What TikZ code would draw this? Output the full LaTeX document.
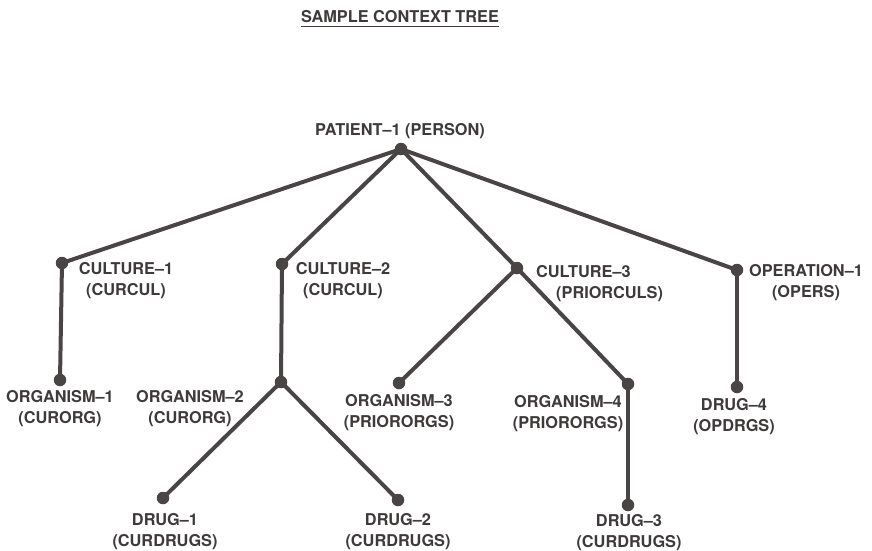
\documentclass[tikz,border=0pt]{standalone}
\usepackage{fontspec}
\setmainfont{TeX Gyre Heros}
\definecolor{ink}{HTML}{4A4545}
\definecolor{txt}{HTML}{3E3A3A}
\begin{document}
\begin{tikzpicture}[x=1pt,y=-1pt,
  dot/.style={circle,fill=ink,inner sep=0pt,minimum size=12.5pt},
  lbl/.style={font=\fontsize{16.3}{21}\selectfont\bfseries,text=txt,align=center,inner sep=0pt},
  edge/.style={draw=ink,line width=4pt,line cap=round}]
\useasboundingbox[fill=white] (0,0) rectangle (872,550);
% title
\node[lbl,anchor=base] (title) at (400,22) {SAMPLE CONTEXT TREE};
\draw[draw=txt,line width=1.3pt] ([yshift=-4.5pt]title.base west) -- ([yshift=-4.5pt]title.base east);
% dots
\node[dot] (p) at (401,149) {};
\node[dot] (c1) at (62,263) {};
\node[dot] (c2) at (282,264) {};
\node[dot] (c3) at (517,268) {};
\node[dot] (op) at (737,270) {};
\node[dot] (o1) at (60,380) {};
\node[dot] (o2) at (281,382) {};
\node[dot] (o3) at (399,383) {};
\node[dot] (o4) at (628,384) {};
\node[dot] (d4) at (737,387) {};
\node[dot] (d1) at (163,498) {};
\node[dot] (d2) at (398,500) {};
\node[dot] (d3) at (628,505) {};
% edges
\path[edge] (p.center) -- (c1.center);
\path[edge] (p.center) -- (c2.center);
\path[edge] (p.center) -- (c3.center);
\path[edge] (p.center) -- (op.center);
\path[edge] (c1.center) -- (o1.center);
\path[edge] (c2.center) -- (o2.center);
\path[edge] (c3.center) -- (o3.center);
\path[edge] (c3.center) -- (o4.center);
\path[edge] (op.center) -- (d4.center);
\path[edge] (o2.center) -- (d1.center);
\path[edge] (o2.center) -- (d2.center);
\path[edge] (o4.center) -- (d3.center);
% labels
\node[lbl] (lp) at (400,131) {PATIENT--1 (PERSON)};
\node[lbl] (lc1) at (126,281) {CULTURE--1\\(CURCUL)};
\node[lbl] (lc2) at (343,281) {CULTURE--2\\(CURCUL)};
\node[lbl,align=left,anchor=west] (lc3) at (536,284) {CULTURE--3\\\hspace*{20pt}(PRIORCULS)};
\node[lbl] (lop) at (806,283) {OPERATION--1\\(OPERS)};
\node[lbl] (lo1) at (60,409) {ORGANISM--1\\(CURORG)};
\node[lbl] (lo2) at (190,409) {ORGANISM--2\\(CURORG)};
\node[lbl] (lo3) at (399,413) {ORGANISM--3\\(PRIORORGS)};
\node[lbl] (lo4) at (568,414) {ORGANISM--4\\(PRIORORGS)};
\node[lbl] (ld4) at (734,417) {DRUG--4\\(OPDRGS)};
\node[lbl] (ld1) at (165,532) {DRUG--1\\(CURDRUGS)};
\node[lbl] (ld2) at (398,532) {DRUG--2\\(CURDRUGS)};
\node[lbl] (ld3) at (629,533) {DRUG--3\\(CURDRUGS)};
\end{tikzpicture}
\end{document}
